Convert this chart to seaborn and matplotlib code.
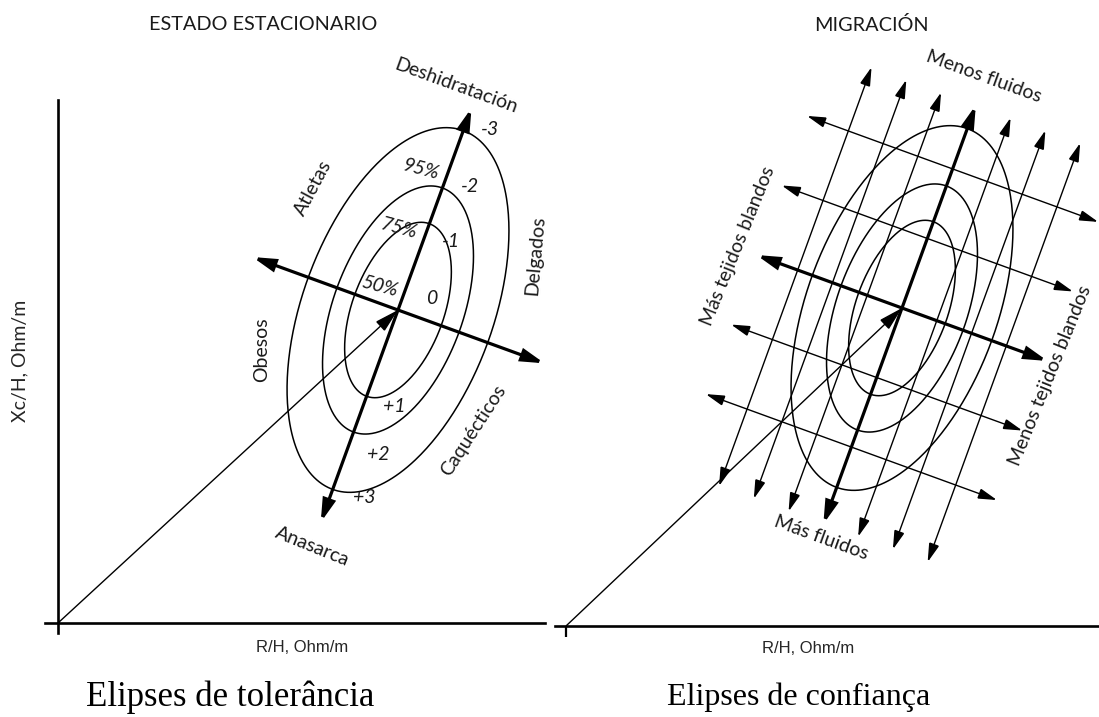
import numpy as np
import pandas as pd
import matplotlib
matplotlib.use("Agg")
import matplotlib.pyplot as plt
from matplotlib.patches import FancyArrowPatch, ArrowStyle
import seaborn as sns

sns.set_theme(style="white")
plt.rcParams["font.family"] = ["Lato", "DejaVu Sans"]
plt.rcParams["text.color"] = "#1a1a1a"

# ---------------------------------------------------------------- data
panel_titles = ["ESTADO ESTACIONARIO", "MIGRACIÓN"]
captions = ["Elipses de tolerância", "Elipses de confiança"]
x_title = "R/H, Ohm/m"
y_title = "Xc/H, Ohm/m"

# reference population: mean vector (R/H, Xc/H) and spread along the principal axes
centre_tol = (340.0, 313.0)
centre_conf = (336.0, 318.0)
sd_major = 78.0
sd_minor = 39.0
tilt_deg = 70.0

coverage = [0.50, 0.75, 0.95]
coverage_labels = ["50%", "75%", "95%"]

# z-score scale printed along the major axis
z_labels = ["-3", "-2", "-1", "0", "+1", "+2", "+3"]
z_along = [201, 141, 82, 22, -92, -142, -188]
z_across = [25, 25, 26, 28, 30, 31, 32]

# classification of the tolerance-ellipse regions
tol_labels = ["Deshidratación", "Atletas", "Delgados", "Obesos", "Caquécticos", "Anasarca"]
tol_label_xy = [(398, 537), (255, 435), (477, 368), (204, 273), (415, 193), (254, 76)]
tol_label_rot = [-20, 62, 85, 90, 57, -22]

# vector migration directions on the confidence panel
conf_labels = ["Menos fluidos", "Más tejidos blandos", "Menos tejidos blandos", "Más fluidos"]
conf_label_xy = [(418, 549), (172, 380), (484, 250), (255, 88)]
conf_label_rot = [-20, 68, 68, -20]

# migration grid: steps across (soft tissue) and along (hydration) the major axis
grid_across_steps = [-3, -2, -1, 0, 1, 2, 3]
grid_along_steps = [-2, -1, 0, 1, 2]

# ---------------------------------------------------------------- geometry helpers
th = np.deg2rad(tilt_deg)
u = np.array([np.cos(th), np.sin(th)])     # major axis direction
v = np.array([np.sin(th), -np.cos(th)])    # minor axis direction


def at(centre, along, across):
    return np.asarray(centre) + along * u + across * v


def ellipse_frame(centre):
    t = np.linspace(0, 2 * np.pi, 361)
    rows = []
    for p in coverage:
        k = np.sqrt(-2.0 * np.log(1.0 - p))
        pts = (np.asarray(centre)[:, None]
               + np.outer(u, k * sd_major * np.sin(t))
               + np.outer(v, k * sd_minor * np.cos(t)))
        rows.append(pd.DataFrame({"x": pts[0], "y": pts[1], "level": p}))
    return pd.concat(rows, ignore_index=True)


def arrow(ax, p0, p1, lw, both=True, head=1.15, width=0.32):
    style = ArrowStyle("<|-|>" if both else "-|>", head_length=head, head_width=width)
    ax.add_patch(FancyArrowPatch(tuple(p0), tuple(p1), arrowstyle=style, mutation_scale=10,
                                 lw=lw, color="black", shrinkA=0, shrinkB=0,
                                 joinstyle="miter", capstyle="butt", clip_on=False))


THIN, THICK = 1.0, 2.3
LABEL_SIZE = 14
label_font = dict(fontsize=LABEL_SIZE, ha="center", va="center", rotation_mode="anchor")
narrow = ["Liberation Sans Narrow", "Liberation Sans"]
serif = ["Liberation Serif", "DejaVu Serif"]

# ---------------------------------------------------------------- figure
fig = plt.figure(figsize=(10.99, 7.17), dpi=100)
W, H = 1099.0, 717.0

ax_l = fig.add_axes([45 / W, (H - 633) / H, 500 / W, 533 / H])
ax_r = fig.add_axes([555 / W, (H - 637) / H, 544 / W, 597 / H])

# ---------------------------------------------------------------- tolerance ellipses
for ax, centre in ((ax_l, centre_tol), (ax_r, centre_conf)):
    sns.lineplot(data=ellipse_frame(centre), x="x", y="y", units="level", estimator=None,
                 sort=False, color="black", linewidth=1.1, legend=False, ax=ax)
    # impedance vector from the origin to the mean
    arrow(ax, (0, 0), centre, THIN, both=False, head=1.5, width=0.4)

ax_l.set_xlim(-13, 487)
ax_l.set_ylim(-10, 523)
ax_r.set_xlim(-11, 533)
ax_r.set_ylim(-11, 586)

for ax in (ax_l, ax_r):
    ax.set_facecolor("white")
    ax.patch.set_alpha(0)
    for s in ("top", "right"):
        ax.spines[s].set_visible(False)
    ax.spines["bottom"].set_position(("data", 0))
    ax.spines["bottom"].set_linewidth(1.9)
    ax.spines["bottom"].set_color("black")
    ax.set_yticks([])

ax_l.spines["left"].set_position(("data", 0))
ax_l.spines["left"].set_linewidth(1.9)
ax_l.spines["left"].set_color("black")
ax_l.set_xticks([])
ax_r.spines["left"].set_visible(False)
ax_r.set_xticks([0])
ax_r.set_xticklabels([])
ax_r.tick_params(axis="x", direction="out", length=8, width=1.6, color="black", bottom=True)

# axis titles
ax_l.set_xlabel(x_title, fontsize=12, va="center", ha="center", family=narrow)
ax_l.xaxis.set_label_coords(0.514, -0.028)
ax_r.set_xlabel(x_title, fontsize=12, va="center", ha="center", family=narrow)
ax_r.xaxis.set_label_coords(0.465, -0.019)
ax_l.set_ylabel(y_title, fontsize=14, va="center", ha="center")
ax_l.yaxis.set_label_coords(-0.05, 0.51)
ax_r.set_ylabel("")

# principal axes of the tolerance panel
arrow(ax_l, at(centre_tol, -226, 0), at(centre_tol, 215, 0), THICK, head=1.3, width=0.36)
arrow(ax_l, at(centre_tol, 0, -155), at(centre_tol, 0, 156), THICK, head=1.3, width=0.36)

for txt, a, c in zip(z_labels, z_along, z_across):
    x, y = at(centre_tol, a, c)
    ax_l.text(x, y, txt, fontsize=LABEL_SIZE, style="italic", ha="center", va="center")

pct_xy = [(321, 337), (341, 395), (363, 454)]
for txt, (x, y) in zip(coverage_labels, pct_xy):
    ax_l.text(x, y, txt, style="italic", rotation=-15, **label_font)

for txt, (x, y), r in zip(tol_labels, tol_label_xy, tol_label_rot):
    ax_l.text(x, y, txt, rotation=r, clip_on=False, **label_font)

# ---------------------------------------------------------------- migration grid
step_across, step_along = 37.0, 74.0
for k in grid_across_steps:
    arrow(ax_r, at(centre_conf, -230, k * step_across), at(centre_conf, 216, k * step_across),
          THICK if k == 0 else THIN, head=1.3 if k == 0 else 1.15, width=0.36 if k == 0 else 0.32)
for k in grid_along_steps:
    arrow(ax_r, at(centre_conf, k * step_along, -155), at(centre_conf, k * step_along, 155),
          THICK if k == 0 else THIN, head=1.3 if k == 0 else 1.15, width=0.36 if k == 0 else 0.32)

for txt, (x, y), r in zip(conf_labels, conf_label_xy, conf_label_rot):
    ax_r.text(x, y, txt, rotation=r, clip_on=False, **label_font)

# ---------------------------------------------------------------- titles and captions
fig.text(263 / W, 1 - 25 / H, panel_titles[0], fontsize=14.3, ha="center", va="center")
fig.text(871 / W, 1 - 25 / H, panel_titles[1], fontsize=14.3, ha="center", va="center")
fig.text(230 / W, 1 - 697 / H, captions[0], fontsize=25, ha="center", va="center",
         family=serif, color="black")
fig.text(799 / W, 1 - 697 / H, captions[1], fontsize=23, ha="center", va="center",
         family=serif, color="black")

fig.savefig("out.png", dpi=100, facecolor="white")
